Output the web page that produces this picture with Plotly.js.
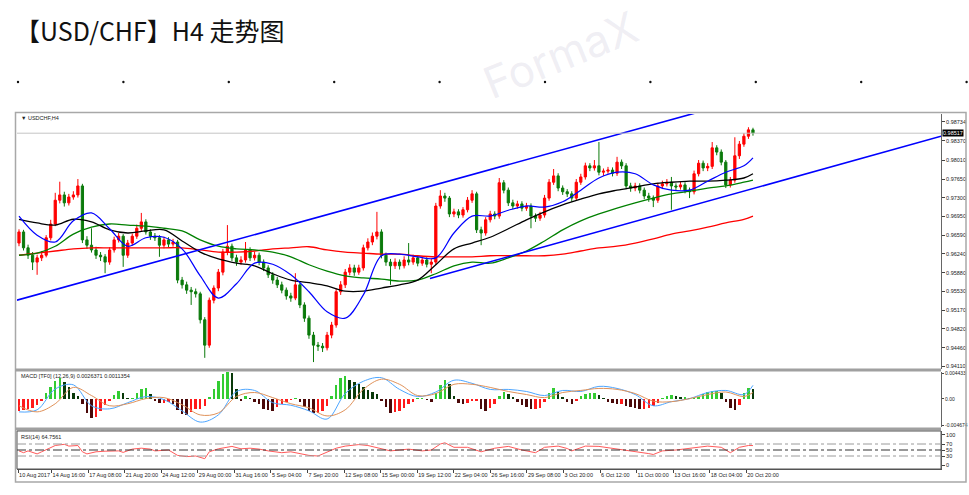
<!DOCTYPE html>
<html><head><meta charset="utf-8">
<script src="https://cdn.plot.ly/plotly-3.0.1.min.js"></script>
<style>html,body{margin:0;padding:0;background:#fff;}#chart{width:969px;height:495px;}</style>
</head><body><div id="chart"></div>
<script>
// ---------- DATA ----------
const barOpen = [
0.9644,0.9665,0.9635,0.9621,0.9608,0.9616,0.9621,0.9654,0.9680,0.9725,
0.9735,0.9720,0.9731,0.9735,0.9752,0.9650,0.9640,0.9631,0.9621,0.9618,
0.9608,0.9631,0.9650,0.9657,0.9621,0.9644,0.9657,0.9672,0.9684,0.9665,
0.9657,0.9654,0.9640,0.9650,0.9642,0.9646,0.9574,0.9565,0.9555,0.9552,
0.9548,0.9499,0.9451,0.9536,0.9559,0.9589,0.9627,0.9638,0.9616,0.9608,
0.9612,0.9631,0.9616,0.9621,0.9608,0.9597,0.9584,0.9574,0.9565,0.9555,
0.9544,0.9540,0.9565,0.9527,0.9502,0.9470,0.9451,0.9449,0.9446,0.9470,
0.9489,0.9552,0.9565,0.9589,0.9597,0.9589,0.9597,0.9635,0.9646,0.9657,
0.9665,0.9621,0.9608,0.9601,0.9608,0.9601,0.9612,0.9608,0.9616,0.9606,
0.9612,0.9604,0.9608,0.9714,0.9733,0.9729,0.9699,0.9703,0.9697,0.9707,
0.9725,0.9737,0.9669,0.9663,0.9688,0.9699,0.9695,0.9758,0.9744,0.9720,
0.9714,0.9718,0.9710,0.9714,0.9695,0.9691,0.9697,0.9729,0.9759,0.9771,
0.9748,0.9741,0.9737,0.9729,0.9759,0.9769,0.9790,0.9786,0.9790,0.9778,
0.9780,0.9782,0.9776,0.9797,0.9790,0.9752,0.9748,0.9752,0.9744,0.9733,
0.9729,0.9725,0.9752,0.9756,0.9759,0.9752,0.9750,0.9754,0.9744,0.9741,
0.9775,0.9795,0.9786,0.9789,0.9824,0.9816,0.9797,0.9754,0.9763,0.9809,
0.9831,0.9846,0.9858];
const barHigh = [
0.9670,0.9669,0.9641,0.9627,0.9622,0.9629,0.9659,0.9688,0.9739,0.9760,
0.9741,0.9737,0.9742,0.9765,0.9756,0.9657,0.9672,0.9637,0.9627,0.9623,
0.9636,0.9656,0.9663,0.9661,0.9650,0.9662,0.9679,0.9701,0.9689,0.9670,
0.9663,0.9659,0.9656,0.9655,0.9652,0.9650,0.9580,0.9571,0.9561,0.9558,
0.9552,0.9504,0.9541,0.9564,0.9595,0.9633,0.9678,0.9643,0.9622,0.9619,
0.9646,0.9636,0.9628,0.9626,0.9613,0.9602,0.9589,0.9580,0.9571,0.9560,
0.9550,0.9587,0.9569,0.9532,0.9507,0.9476,0.9457,0.9455,0.9476,0.9495,
0.9558,0.9572,0.9595,0.9604,0.9603,0.9603,0.9641,0.9653,0.9664,0.9703,
0.9670,0.9626,0.9614,0.9615,0.9613,0.9619,0.9644,0.9622,0.9621,0.9618,
0.9617,0.9614,0.9720,0.9744,0.9739,0.9733,0.9709,0.9708,0.9712,0.9731,
0.9744,0.9741,0.9675,0.9693,0.9705,0.9704,0.9767,0.9763,0.9749,0.9726,
0.9724,0.9723,0.9720,0.9719,0.9700,0.9703,0.9735,0.9765,0.9784,0.9776,
0.9753,0.9746,0.9742,0.9765,0.9775,0.9796,0.9795,0.9801,0.9835,0.9785,
0.9788,0.9787,0.9807,0.9802,0.9795,0.9758,0.9758,0.9757,0.9749,0.9739,
0.9734,0.9758,0.9762,0.9765,0.9769,0.9757,0.9760,0.9759,0.9749,0.9781,
0.9801,0.9800,0.9795,0.9835,0.9829,0.9821,0.9801,0.9769,0.9844,0.9837,
0.9852,0.9863,0.9862];
const barLow = [
0.9638,0.9630,0.9614,0.9593,0.9584,0.9610,0.9617,0.9649,0.9676,0.9719,
0.9713,0.9715,0.9726,0.9730,0.9644,0.9633,0.9626,0.9614,0.9610,0.9587,
0.9603,0.9626,0.9645,0.9599,0.9616,0.9639,0.9652,0.9667,0.9660,0.9650,
0.9648,0.9618,0.9634,0.9636,0.9637,0.9568,0.9558,0.9548,0.9527,0.9541,
0.9492,0.9427,0.9446,0.9530,0.9553,0.9583,0.9621,0.9610,0.9601,0.9603,
0.9607,0.9610,0.9611,0.9602,0.9591,0.9578,0.9567,0.9559,0.9549,0.9537,
0.9533,0.9536,0.9521,0.9495,0.9463,0.9419,0.9440,0.9438,0.9441,0.9464,
0.9484,0.9546,0.9559,0.9583,0.9582,0.9584,0.9592,0.9630,0.9640,0.9651,
0.9615,0.9601,0.9565,0.9595,0.9594,0.9596,0.9602,0.9603,0.9600,0.9601,
0.9598,0.9587,0.9603,0.9709,0.9722,0.9693,0.9693,0.9691,0.9692,0.9702,
0.9720,0.9663,0.9640,0.9658,0.9683,0.9689,0.9690,0.9738,0.9714,0.9708,
0.9709,0.9704,0.9705,0.9672,0.9684,0.9686,0.9692,0.9724,0.9754,0.9742,
0.9735,0.9731,0.9722,0.9724,0.9754,0.9764,0.9780,0.9781,0.9772,0.9771,
0.9775,0.9770,0.9771,0.9784,0.9746,0.9741,0.9742,0.9738,0.9727,0.9722,
0.9712,0.9720,0.9746,0.9751,0.9707,0.9744,0.9745,0.9738,0.9729,0.9736,
0.9770,0.9780,0.9780,0.9784,0.9810,0.9791,0.9748,0.9749,0.9758,0.9803,
0.9826,0.9841,0.9847];
const barClose = [
0.9665,0.9635,0.9621,0.9608,0.9616,0.9621,0.9654,0.9680,0.9725,0.9735,
0.9720,0.9731,0.9735,0.9752,0.9650,0.9640,0.9631,0.9621,0.9618,0.9608,
0.9631,0.9650,0.9657,0.9621,0.9644,0.9657,0.9672,0.9684,0.9665,0.9657,
0.9654,0.9640,0.9650,0.9642,0.9646,0.9574,0.9565,0.9555,0.9552,0.9548,
0.9499,0.9451,0.9536,0.9559,0.9589,0.9627,0.9638,0.9616,0.9608,0.9612,
0.9631,0.9616,0.9621,0.9608,0.9597,0.9584,0.9574,0.9565,0.9555,0.9544,
0.9540,0.9565,0.9527,0.9502,0.9470,0.9451,0.9449,0.9446,0.9470,0.9489,
0.9552,0.9565,0.9589,0.9597,0.9589,0.9597,0.9635,0.9646,0.9657,0.9665,
0.9621,0.9608,0.9601,0.9608,0.9601,0.9612,0.9608,0.9616,0.9606,0.9612,
0.9604,0.9608,0.9714,0.9733,0.9729,0.9699,0.9703,0.9697,0.9707,0.9725,
0.9737,0.9669,0.9663,0.9688,0.9699,0.9695,0.9758,0.9744,0.9720,0.9714,
0.9718,0.9710,0.9714,0.9695,0.9691,0.9697,0.9729,0.9759,0.9771,0.9748,
0.9741,0.9737,0.9729,0.9759,0.9769,0.9790,0.9786,0.9790,0.9778,0.9780,
0.9782,0.9776,0.9797,0.9790,0.9752,0.9748,0.9752,0.9744,0.9733,0.9729,
0.9725,0.9752,0.9756,0.9759,0.9752,0.9750,0.9754,0.9744,0.9741,0.9775,
0.9795,0.9786,0.9789,0.9824,0.9816,0.9797,0.9754,0.9763,0.9809,0.9831,
0.9846,0.9858,0.9852];

// moving averages sampled every 4 bars
const maIdx = [0,4,8,12,16,20,24,28,32,36,40,44,48,52,56,60,64,68,72,76,80,84,88,92,96,100,104,108,112,116,120,124,128,132,136,140,144,148,152,156,160,162];
const maBlue = [0.9695,0.9659,0.9646,0.9686,0.9701,0.9671,0.9638,0.9654,0.9655,0.9633,
0.9582,0.9540,0.9567,0.9606,0.9604,0.9584,0.9552,0.9514,0.9502,0.9546,
0.9620,0.9623,0.9618,0.9616,0.9663,0.9695,0.9695,0.9706,0.9714,0.9712,
0.9722,0.9744,0.9767,0.9778,0.9775,0.9754,0.9744,0.9744,0.9761,0.9778,
0.9790,0.9805];
const maBlack = [0.9689,0.9682,0.9678,0.9689,0.9684,0.9669,0.9663,0.9667,0.9669,0.9648,
0.9627,0.9614,0.9606,0.9601,0.9586,0.9574,0.9569,0.9563,0.9553,0.9553,
0.9559,0.9565,0.9574,0.9603,0.9633,0.9644,0.9655,0.9671,0.9688,0.9703,
0.9716,0.9727,0.9737,0.9744,0.9750,0.9756,0.9759,0.9761,0.9761,0.9763,
0.9767,0.9775];
const maGreen = [0.9621,0.9625,0.9638,0.9661,0.9674,0.9680,0.9678,0.9676,0.9672,0.9667,
0.9650,0.9638,0.9633,0.9631,0.9627,0.9618,0.9603,0.9591,0.9582,0.9578,
0.9576,0.9572,0.9574,0.9586,0.9601,0.9608,0.9606,0.9616,0.9629,0.9648,
0.9669,0.9686,0.9699,0.9710,0.9720,0.9729,0.9737,0.9742,0.9748,0.9752,
0.9759,0.9763];
const maRed = [0.9621,0.9625,0.9629,0.9633,0.9635,0.9635,0.9635,0.9635,0.9635,0.9635,
0.9631,0.9627,0.9627,0.9629,0.9633,0.9635,0.9637,0.9631,0.9627,0.9625,
0.9623,0.9623,0.9620,0.9618,0.9618,0.9618,0.9620,0.9620,0.9620,0.9620,
0.9623,0.9629,0.9635,0.9638,0.9644,0.9652,0.9661,0.9667,0.9674,0.9682,
0.9689,0.9695];

// channel lines (bar index, price)
const upperLineX = [-0.44, 203.5];
const upperLineY = [0.9536, 1.0018];
const lowerLineX = [90.7, 203.5];
const lowerLineY = [0.9577, 0.9846];
const lastPrice = 0.98517;

// MACD
const macdHist = [
-0.00214,-0.00196,-0.00178,-0.00160,-0.00107,-0.00036,0.00107,0.00214,0.00320,0.00374,
0.00303,0.00214,0.00107,0.00053,-0.00089,-0.00249,-0.00338,-0.00320,-0.00214,-0.00107,
-0.00036,0.00071,0.00142,0.00107,0.00018,0.00018,0.00107,0.00178,0.00196,0.00089,
-0.00036,-0.00071,-0.00071,-0.00053,-0.00089,-0.00196,-0.00267,-0.00285,-0.00231,-0.00178,
-0.00178,-0.00125,0.00036,0.00178,0.00320,0.00427,0.00463,0.00445,0.00178,-0.00036,
0.00053,0.00018,-0.00053,-0.00089,-0.00178,-0.00196,-0.00214,-0.00142,-0.00089,-0.00053,
-0.00018,0.00018,-0.00053,-0.00142,-0.00214,-0.00249,-0.00249,-0.00214,-0.00125,0.00053,
0.00249,0.00374,0.00392,0.00338,0.00303,0.00267,0.00214,0.00160,0.00125,0.00089,
-0.00036,-0.00142,-0.00249,-0.00231,-0.00214,-0.00160,-0.00089,-0.00053,0.00018,0.00018,
-0.00018,-0.00053,0.00107,0.00249,0.00338,0.00267,0.00053,-0.00071,-0.00089,-0.00071,
-0.00036,-0.00036,-0.00178,-0.00214,-0.00160,-0.00089,0.00053,0.00125,0.00089,0.00036,
-0.00053,-0.00107,-0.00142,-0.00178,-0.00178,-0.00160,-0.00053,0.00107,0.00196,0.00125,
0.00036,-0.00053,-0.00089,-0.00036,0.00053,0.00089,0.00107,0.00107,0.00071,0.00018,
-0.00053,-0.00071,-0.00089,-0.00089,-0.00125,-0.00142,-0.00160,-0.00178,-0.00178,-0.00160,
-0.00125,-0.00071,0.00018,0.00053,0.00071,0.00053,0.00036,0.00036,0.00018,0.00018,
0.00036,0.00089,0.00125,0.00142,0.00142,0.00107,-0.00053,-0.00160,-0.00196,-0.00107,
0.00107,0.00196,0.00178];
const macdMain = [-0.00226,-0.00190,0.00174,0.00246,-0.00119,-0.00173,-0.00066,0.00041,-0.00012,-0.00208,
-0.00404,-0.00279,0.00130,0.00148,-0.00066,-0.00110,-0.00208,-0.00351,0.00094,0.00308,
0.00370,0.00166,0.00041,0.00121,0.00326,0.00272,0.00166,0.00166,0.00130,0.00059,
0.00148,0.00130,0.00219,0.00183,0.00077,-0.00119,-0.00048,0.00005,0.00112,0.00148,
0.00077,0.00237];
const macdSignal = [-0.00119,-0.00226,-0.00084,0.00201,0.00059,-0.00119,-0.00084,0.00005,0.00023,-0.00101,
-0.00279,-0.00244,0.00041,0.00112,0.00023,-0.00084,-0.00155,-0.00297,-0.00190,0.00166,
0.00344,0.00255,0.00059,0.00094,0.00255,0.00255,0.00201,0.00130,0.00077,0.00023,
0.00112,0.00148,0.00183,0.00166,0.00094,-0.00039,-0.00048,0.00005,0.00077,0.00121,
0.00041,0.00112];

// RSI(14)
const rsiIdx = [0,1,2,4,5,7,8,10,11,13,14,15,17,19,22,23,25,27,29,30,33,35,37,39,41,42,44,47,49,51,
53,55,58,60,62,64,66,68,70,72,75,77,80,82,84,86,89,91,93,94,96,99,102,105,108,111,114,116,119,121,
122,125,128,131,134,136,139,140,142,145,148,150,152,155,157,159,161,162];
const rsiVal = [47,41,47,37,44,59,65,69,63,65,44,37,44,46,47,42,53,56,53,47,50,32,28,30,21,44,54,62,54,56,
53,47,41,44,37,32,30,44,56,63,68,65,53,47,50,53,47,50,70,74,59,59,44,56,62,50,41,59,63,55,
47,63,62,56,50,44,38,35,47,50,55,59,63,59,41,59,65,64.8];

// axis labels
const priceTicks = [0.98734,0.98370,0.98010,0.97650,0.97300,0.96950,0.96590,0.96240,0.95880,0.95530,0.95170,0.94820,0.94460,0.94110];
const macdTicks = [0.004433, 0, -0.004674];
const macdTickText = ['0.004433','0.00','-0.004674'];
const rsiTicks = [100,70,50,30,0];
const timeLabels = ['10 Aug 2017','14 Aug 16:00','17 Aug 08:00','21 Aug 20:00','24 Aug 12:00','29 Aug 00:00',
'31 Aug 16:00','5 Sep 04:00','7 Sep 20:00','12 Sep 08:00','15 Sep 00:00','19 Sep 12:00','22 Sep 04:00',
'26 Sep 16:00','29 Sep 08:00','3 Oct 20:00','6 Oct 12:00','11 Oct 00:00','13 Oct 16:00','18 Oct 04:00','20 Oct 20:00'];

// ---------- LAYOUT HELPERS ----------
const L=17, R=941, T=114, B=469;
const px2x = p => (p-L)/(R-L);
const py2y = p => (B-p)/(B-T);
const barIdx = barClose.map((_,i)=>i);
const tickPos = timeLabels.map((_,k)=> k===0 ? -0.2 : 7.2 + 8.07*(k-1));
const small = {family:'Liberation Sans, Arial, sans-serif', size:5.5, color:'#222'};
const tiny = {family:'Liberation Sans, Arial, sans-serif', size:5, color:'#222'};

const histColors = macdHist.map((v,k)=>{
  const prev = k>0 ? macdHist[k-1] : v;
  const rising = v >= prev;
  if (v >= 0) return rising ? '#33cc33' : '#0a3a0a';
  return rising ? '#ff1a1a' : '#4a0808';
});

const traces = [
  {type:'candlestick', x:barIdx, open:barOpen, high:barHigh, low:barLow, close:barClose,
   xaxis:'x', yaxis:'y', whiskerwidth:0,
   increasing:{line:{color:'#ff0000', width:1}, fillcolor:'#ff0000'},
   decreasing:{line:{color:'#0b7a0b', width:1}, fillcolor:'#0b7a0b'}, hoverinfo:'skip'},
  {type:'scatter', mode:'lines', x:maIdx, y:maRed, line:{color:'#ff0000', width:1.3, shape:'spline'}, yaxis:'y'},
  {type:'scatter', mode:'lines', x:maIdx, y:maGreen, line:{color:'#008000', width:1.3, shape:'spline'}, yaxis:'y'},
  {type:'scatter', mode:'lines', x:maIdx, y:maBlack, line:{color:'#000000', width:1.3, shape:'spline'}, yaxis:'y'},
  {type:'scatter', mode:'lines', x:maIdx, y:maBlue, line:{color:'#0000ff', width:1.2, shape:'spline'}, yaxis:'y'},
  {type:'scatter', mode:'lines', x:upperLineX, y:upperLineY, line:{color:'#0000ff', width:1.6}, yaxis:'y'},
  {type:'scatter', mode:'lines', x:lowerLineX, y:lowerLineY, line:{color:'#0000ff', width:1.6}, yaxis:'y'},
  {type:'bar', x:barIdx, y:macdHist, marker:{color:histColors, line:{width:0}}, width:0.55, yaxis:'y2'},
  {type:'scatter', mode:'lines', x:maIdx, y:macdMain, line:{color:'#4da6ff', width:1, shape:'spline'}, yaxis:'y2'},
  {type:'scatter', mode:'lines', x:maIdx, y:macdSignal, line:{color:'#e0925a', width:1, shape:'spline'}, yaxis:'y2'},
  {type:'scatter', mode:'lines', x:rsiIdx, y:rsiVal, line:{color:'#ff5a5a', width:1}, yaxis:'y3'}
];

const shapes = [];
// dotted separator row
for (let k=0;k<10;k++){
  const cx = 18 + 105.4*k, cy = 82;
  shapes.push({type:'circle', xref:'paper', yref:'paper', x0:px2x(cx-1.2), x1:px2x(cx+1.2), y0:py2y(cy+1.2), y1:py2y(cy-1.2), fillcolor:'#111', line:{width:0}});
}
// outer frame
shapes.push({type:'rect', xref:'paper', yref:'paper', x0:px2x(15.5), x1:px2x(966), y0:py2y(482), y1:py2y(112.5), line:{color:'#a8a8a8', width:1.5}});
// panel separators
shapes.push({type:'rect', xref:'paper', yref:'paper', x0:px2x(15.5), x1:1, y0:py2y(371.5), y1:py2y(368.5), fillcolor:'#a0a0a0', line:{width:0}});
shapes.push({type:'rect', xref:'paper', yref:'paper', x0:px2x(15.5), x1:1, y0:py2y(430.5), y1:py2y(427.5), fillcolor:'#a0a0a0', line:{width:0}});
// RSI frame
shapes.push({type:'rect', xref:'paper', yref:'paper', x0:0, x1:1, y0:0, y1:py2y(431), line:{color:'#555', width:1}});
// price line
shapes.push({type:'line', xref:'paper', yref:'y', x0:0, x1:1, y0:lastPrice, y1:lastPrice, line:{color:'#c4c4c4', width:1}});
// RSI levels
[[70,'#9a9a9a'],[50,'#333'],[30,'#9a9a9a']].forEach(([lv,c])=>{
  shapes.push({type:'line', xref:'paper', yref:'y3', x0:0, x1:1, y0:lv, y1:lv, line:{color:c, width:1, dash:'dashdot'}});
});

const annotations = [
  {xref:'paper', yref:'paper', x:px2x(19), y:py2y(118), xanchor:'left', yanchor:'middle', showarrow:false, text:'▼ USDCHF,H4', font:small},
  {xref:'paper', yref:'paper', x:px2x(19), y:py2y(375.5), xanchor:'left', yanchor:'middle', showarrow:false, text:'MACD [TF0] (12,26,9) 0.0026371 0.0011354', font:small},
  {xref:'paper', yref:'paper', x:px2x(19), y:py2y(436.5), xanchor:'left', yanchor:'middle', showarrow:false, text:'RSI(14) 64.7561', font:small},
  {xref:'paper', yref:'y', x:1, y:lastPrice, xanchor:'left', yanchor:'middle', xshift:1, showarrow:false, text:'0.98517',
   bgcolor:'#000', borderpad:0, font:{family:small.family, size:5.5, color:'#fff'}},
  {xref:'paper', yref:'paper', x:px2x(560), y:py2y(55), xanchor:'center', yanchor:'middle', showarrow:false, text:'FormaX',
   textangle:-22, font:{family:'Inter, sans-serif', size:44, color:'rgba(175,170,200,0.2)'}}
];

const axisBase = {showgrid:false, zeroline:false, fixedrange:true};
const layout = {
  width:969, height:495, paper_bgcolor:'#fff', plot_bgcolor:'#fff', showlegend:false,
  margin:{l:L, r:969-R, t:T, b:495-B, pad:0},
  title:{text:'【USD/CHF】H4 走势图', x:15/969, xanchor:'left', y:1-32/495, yanchor:'middle',
         font:{family:'Noto Sans CJK SC, sans-serif', size:25, color:'#111'}},
  xaxis:Object.assign({}, axisBase, {anchor:'y3', range:[-0.44,203.5], tickmode:'array', tickvals:tickPos, ticktext:timeLabels,
        ticklabelposition:'outside right', tickangle:0, ticks:'outside', ticklen:3, tickcolor:'#444', tickfont:small,
        showline:true, linecolor:'#555', rangeslider:{visible:false}}),
  yaxis:Object.assign({}, axisBase, {domain:[py2y(369),1], side:'right', anchor:'x', range:[0.94059,0.98880],
        tickmode:'array', tickvals:priceTicks, ticktext:priceTicks.map(v=>v.toFixed(5)),
        ticks:'outside', ticklen:3, tickcolor:'#444', tickfont:small, showline:true, linecolor:'#666'}),
  yaxis2:Object.assign({}, axisBase, {domain:[py2y(427),py2y(372)], side:'right', anchor:'x', range:[-0.0049,0.0047],
        tickmode:'array', tickvals:macdTicks, ticktext:macdTickText,
        ticks:'outside', ticklen:2, tickcolor:'#444', tickfont:tiny, showline:true, linecolor:'#666'}),
  yaxis3:Object.assign({}, axisBase, {domain:[0,py2y(431)], side:'right', anchor:'x', range:[-13.3,113.3],
        tickmode:'array', tickvals:rsiTicks, ticktext:rsiTicks.map(String),
        ticks:'outside', ticklen:3, tickcolor:'#444', tickfont:small, showline:true, linecolor:'#666'}),
  shapes:shapes, annotations:annotations, bargap:0
};

Plotly.newPlot('chart', traces, layout, {displayModeBar:false, staticPlot:true});
</script>
</body></html>
